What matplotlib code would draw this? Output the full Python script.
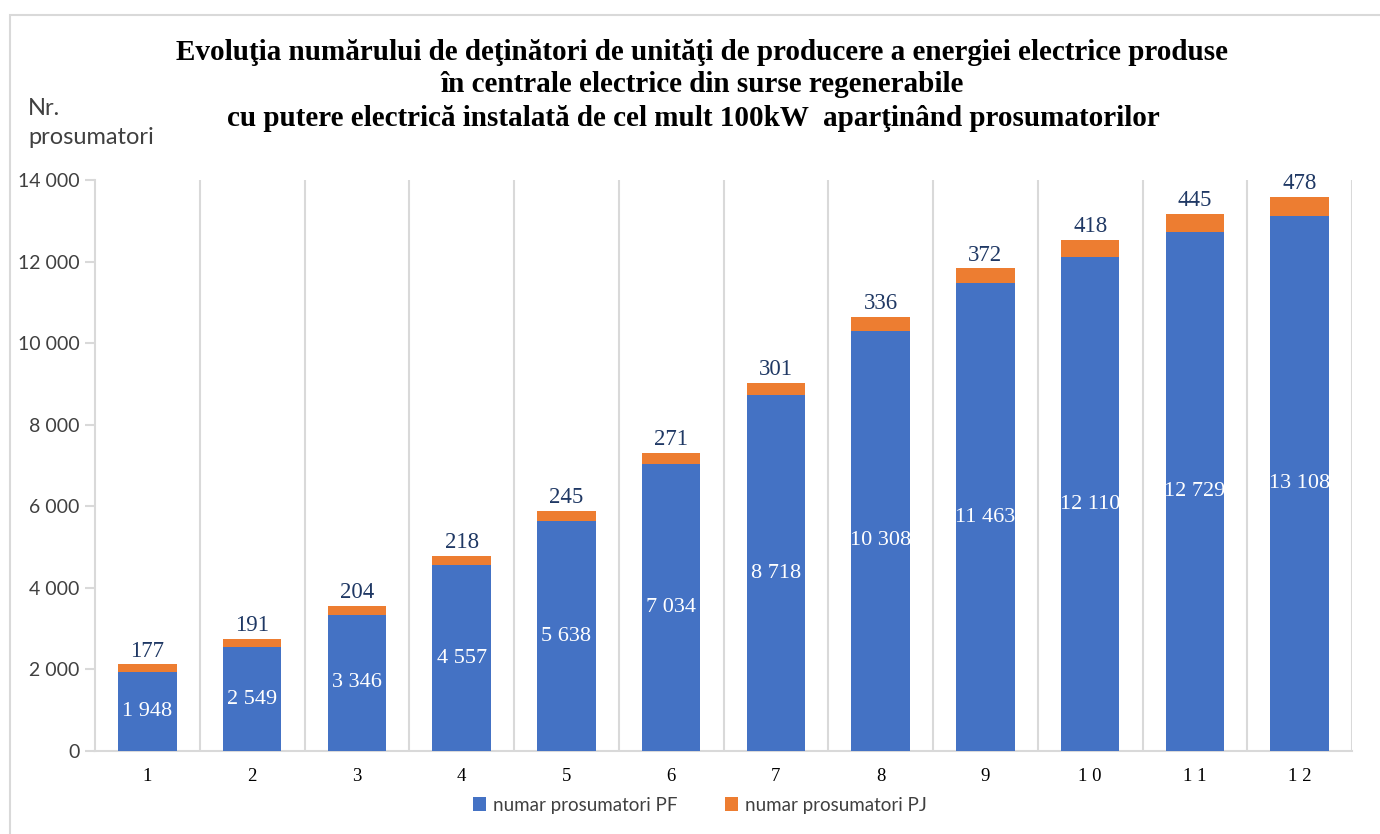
import matplotlib.pyplot as plt
from matplotlib.patches import Rectangle
import numpy as np

# Date
luni = ["1", "2", "3", "4", "5", "6", "7", "8", "9", "1 0", "1 1", "1 2"]
prosumatori_pf = [1948, 2549, 3346, 4557, 5638, 7034, 8718, 10308, 11463, 12110, 12729, 13108]
prosumatori_pj = [177, 191, 204, 218, 245, 271, 301, 336, 372, 418, 445, 478]

titlu = ["Evoluţia numărului de deţinători de unităţi de producere a energiei electrice produse",
         "în centrale electrice din surse regenerabile",
         "cu putere electrică instalată de cel mult 100kW  aparţinând prosumatorilor"]

albastru = "#4472C4"
portocaliu = "#ED7D31"
gri = "#D9D9D9"
serif = "Liberation Serif"
sans = "Lato"

def fmt(v):
    return f"{v:,}".replace(",", " ")

fig = plt.figure(figsize=(13.8, 8.34), dpi=100)
fig.patches.append(Rectangle((10 / 1380, -0.1), 1.2, 1 - 15 / 834 + 0.1, transform=fig.transFigure,
                             fill=False, edgecolor=gri, linewidth=1.5))

ax = fig.add_axes([95 / 1380, 83 / 834, 1257 / 1380, 571 / 834])
x = np.arange(len(luni))
ax.bar(x, prosumatori_pf, width=0.56, color=albastru, label="numar prosumatori PF", zorder=3)
ax.bar(x, prosumatori_pj, width=0.56, bottom=prosumatori_pf, color=portocaliu,
       label="numar prosumatori PJ", zorder=3)

for i in range(len(luni)):
    ax.text(x[i], prosumatori_pf[i] / 2, fmt(prosumatori_pf[i]), ha="center", va="center",
            color="white", fontsize=16, family=serif, zorder=4)
    ax.annotate(fmt(prosumatori_pj[i]), (x[i], prosumatori_pf[i] + prosumatori_pj[i]),
                xytext=(0, 2), textcoords="offset points", ha="center", va="bottom",
                color="#1F3864", fontsize=16.5, family=serif, zorder=4)

ax.set_xlim(-0.5, len(luni) - 0.5)
ax.set_ylim(0, 14000)
ax.set_yticks(range(0, 14001, 2000))
ax.set_yticklabels([fmt(v) for v in range(0, 14001, 2000)], family=sans, fontsize=14, color="#404040")
ax.set_xticks(x)
ax.set_xticklabels(luni, family=serif, fontsize=13.5)
for b in np.arange(0.5, len(luni), 1):
    ax.axvline(b, color=gri, linewidth=1.5, zorder=1)
for s in ["top", "right"]:
    ax.spines[s].set_visible(False)
for s in ["left", "bottom"]:
    ax.spines[s].set_color(gri)
    ax.spines[s].set_linewidth(1.5)
ax.tick_params(axis="y", length=7, color=gri, width=1.5, pad=4)
ax.tick_params(axis="x", length=0, pad=12)

for k, (linie, y) in enumerate(zip(titlu, [52, 84, 118])):
    fig.text(702 / 1380 if k < 2 else 693 / 1380, 1 - y / 834, linie, ha="center", va="center",
             family=serif, fontweight="bold", fontsize=21)

fig.text(28 / 1380, 1 - 98 / 834, "Nr.\nprosumatori", ha="left", va="top", family=sans,
         fontsize=17, color="#404040", linespacing=1.5)

leg = fig.legend(loc="center", bbox_to_anchor=(700 / 1380, 1 - 805 / 834), ncol=2, frameon=False,
                 prop={"family": sans, "size": 13.5}, handlelength=0.7, handleheight=0.7,
                 columnspacing=2.5, handletextpad=0.4)
for t in leg.get_texts():
    t.set_color("#404040")

fig.savefig("out.png", dpi=100, facecolor="white")
